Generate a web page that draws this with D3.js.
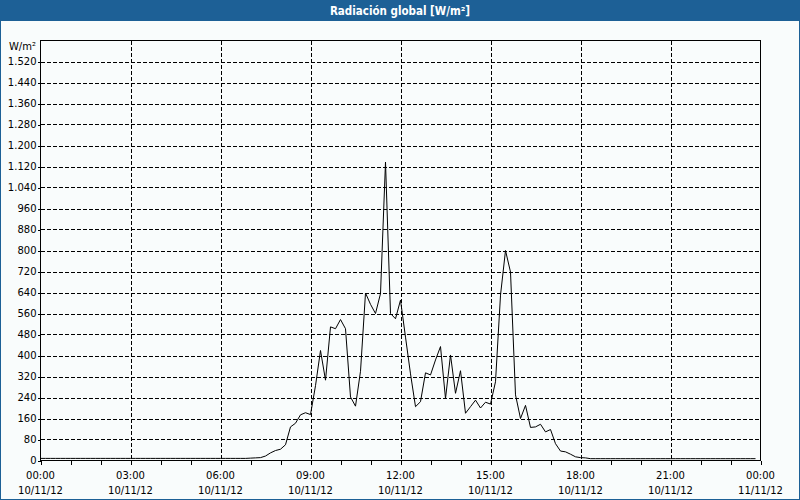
<!DOCTYPE html>
<html><head><meta charset="utf-8">
<script src="https://cdn.jsdelivr.net/npm/d3@7"></script>
<style>html,body{margin:0;padding:0;background:#fff}svg{display:block}</style>
</head><body>
<script>
const title = "Radiación global [W/m²]";
const unitLabel = "W/m²";
const startTime = "2012-11-10T00:00:00";
const endTime = "2012-11-11T00:00:00";
const stepMinutes = 10;
const yTicks = [0,80,160,240,320,400,480,560,640,720,800,880,960,1040,1120,1200,1280,1360,1440,1520];
const yMax = 1600;
const values = [
 8,8,8,8,8,8,8,8,8,8, 8,8,8,8,8,8,8,8,8,8,
 8,8,8,8,8,8,8,8,8,8, 8,8,8,8,8,8,8,8,8,8,
 8,8,9,10,11,17,29,38,43,60,
 128,142,174,182,175,285,419,306,509,502,
 537,502,242,207,340,638,595,560,636,1137,
 560,540,611,470,330,205,224,334,326,383,
 434,236,402,256,342,180,205,230,200,222,
 215,300,630,800,718,250,160,210,126,128,
 138,109,118,64,36,33,24,14,11,10,
 7,7,7,7,7,7,7,7,7,7, 7,7,7,7,7,7,7,7,7,7,
 7,7,7,7,7,7,7,7,7,7, 7,7,7,7
];

(function(){
const W = 800, H = 500;
const pL = 40.5, pR = 760.5, pT = 40.5, pB = 460.5;
const t0 = new Date(startTime), t1 = new Date(endTime);
const times = values.map((v,i) => d3.timeMinute.offset(t0, i*stepMinutes));

const svg = d3.select("body").append("svg").attr("width", W).attr("height", H);
svg.append("rect").attr("x",0).attr("y",0).attr("width",W).attr("height",H).attr("fill","#1d6096");
svg.append("rect").attr("x",1).attr("y",21).attr("width",W-2).attr("height",H-22).attr("fill","#f9fcfc");
svg.append("text").attr("x",W/2).attr("y",15).attr("text-anchor","middle")
  .attr("fill","#fff").attr("font-family","'DejaVu Sans Condensed','DejaVu Sans',sans-serif")
  .attr("font-weight","bold").attr("font-size","11.5px").text(title);

const x = d3.scaleTime().domain([t0,t1]).range([pL,pR]);
const y = d3.scaleLinear().domain([0,yMax]).range([pB,pT]);
const font = "'DejaVu Sans',sans-serif";

svg.append("g").selectAll("line").data(yTicks.filter(d=>d>0)).join("line")
  .attr("x1",pL).attr("x2",pR).attr("y1",d=>Math.round(y(d))+0.5).attr("y2",d=>Math.round(y(d))+0.5)
  .attr("stroke","#000").attr("stroke-dasharray","4,2").attr("shape-rendering","crispEdges");
const majorTicks = x.ticks(d3.timeHour.every(3));
svg.append("g").selectAll("line").data(majorTicks.filter(d=>d>t0 && d<t1)).join("line")
  .attr("x1",d=>Math.round(x(d))+0.5).attr("x2",d=>Math.round(x(d))+0.5).attr("y1",pT).attr("y2",pB)
  .attr("stroke","#000").attr("stroke-dasharray","4,2").attr("shape-rendering","crispEdges");

const fmt = d3.formatLocale({decimal:",",thousands:".",grouping:[3],currency:["",""]}).format(",d");
const yAxis = d3.axisLeft(y).tickValues(yTicks).tickSize(3).tickFormat(fmt);
const gy = svg.append("g").attr("transform",`translate(${pL},0)`).call(yAxis);
gy.select(".domain").remove();
gy.selectAll("text").attr("font-family",font).attr("font-size","10px").attr("fill","#000").attr("x",-4);
gy.selectAll("line").attr("stroke","#000").attr("shape-rendering","crispEdges");
svg.append("text").attr("x",36).attr("y",50).attr("text-anchor","end")
  .attr("font-family",font).attr("font-size","10px").text(unitLabel);

const xAxis = d3.axisBottom(x).ticks(d3.timeHour.every(1)).tickSize(4).tickFormat("");
const gx = svg.append("g").attr("transform",`translate(0,${pB})`).call(xAxis);
gx.select(".domain").remove();
gx.selectAll("line").attr("stroke","#000").attr("shape-rendering","crispEdges");
const lab = svg.append("g").selectAll("g").data(majorTicks).join("g")
  .attr("transform",d=>`translate(${x(d)},0)`);
lab.append("text").attr("y",479).attr("text-anchor","middle").attr("font-family",font).attr("font-size","10px")
  .text(d3.timeFormat("%H:%M"));
lab.append("text").attr("y",494).attr("text-anchor","middle").attr("font-family",font).attr("font-size","10px")
  .text(d3.timeFormat("%d/%m/%y"));

const line = d3.line().x((d,i)=>x(times[i])).y(d=>y(d));
svg.append("path").datum(values).attr("d",line).attr("fill","none").attr("stroke","#000").attr("stroke-width",1);

svg.append("rect").attr("x",pL).attr("y",pT).attr("width",pR-pL).attr("height",pB-pT)
  .attr("fill","none").attr("stroke","#000").attr("shape-rendering","crispEdges");
})();
</script>
</body></html>
